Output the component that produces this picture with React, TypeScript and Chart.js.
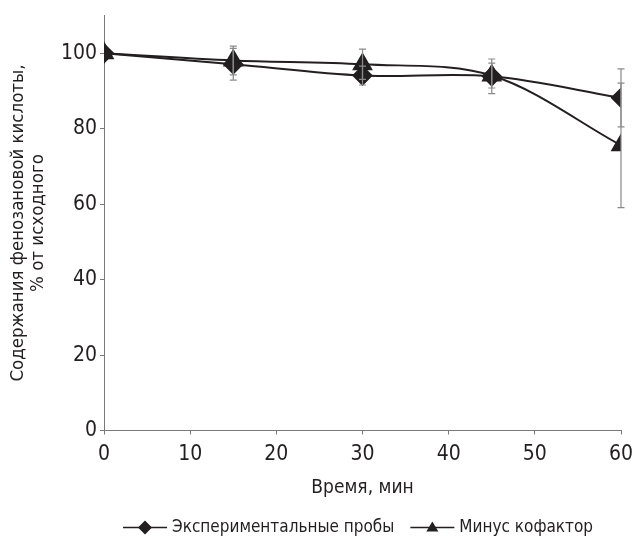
import React, { useEffect, useRef } from "react";
import { Chart, registerables } from "chart.js";
Chart.register(...registerables);

const times = [0, 15, 30, 45, 60];
const expValues = [100, 97.1, 94.1, 93.9, 88.2];
const expErrors = [0, 4.2, 2.5, 4.6, 7.7];
const cofValues = [100, 98.1, 97.1, 94.1, 75.6];
const cofErrors = [0, 3.8, 4.0, 3.3, 16.5];
const expLabel = "Экспериментальные пробы";
const cofLabel = "Минус кофактор";
const xTitle = "Время, мин";
const yTitle = ["Содержания фенозановой кислоты,", "% от исходного"];

const FONT = "'DejaVu Sans Condensed', 'DejaVu Sans', sans-serif";
const INK = "#231f20";
const AXIS = "#7a7a7a";

const errorBarPlugin = {
  id: "errorBars",
  afterDatasetsDraw(chart: any) {
    const ctx = chart.ctx;
    const xs = chart.scales.x;
    const ys = chart.scales.y;
    const sets = [
      { v: expValues, e: expErrors },
      { v: cofValues, e: cofErrors },
    ];
    ctx.save();
    ctx.strokeStyle = "#8a8a8a";
    ctx.lineWidth = 1.2;
    sets.forEach((s) => {
      times.forEach((t, i) => {
        if (!s.e[i]) return;
        const x = xs.getPixelForValue(t);
        const y1 = ys.getPixelForValue(s.v[i] + s.e[i]);
        const y2 = ys.getPixelForValue(s.v[i] - s.e[i]);
        ctx.beginPath();
        ctx.moveTo(x, y1);
        ctx.lineTo(x, y2);
        ctx.moveTo(x - 3.5, y1);
        ctx.lineTo(x + 3.5, y1);
        ctx.moveTo(x - 3.5, y2);
        ctx.lineTo(x + 3.5, y2);
        ctx.stroke();
      });
    });
    ctx.restore();
  },
};

const legendPlugin = {
  id: "bottomLegend",
  afterDraw(chart: any) {
    const ctx = chart.ctx;
    const ca = chart.chartArea;
    const y = ca.bottom + 97;
    let x = ca.left + 19;
    ctx.save();
    ctx.font = `17px ${FONT}`;
    ctx.fillStyle = INK;
    ctx.strokeStyle = INK;
    ctx.textBaseline = "middle";
    ctx.textAlign = "left";
    chart.data.datasets.forEach((ds: any) => {
      ctx.lineWidth = 1.5;
      ctx.beginPath();
      ctx.moveTo(x, y);
      ctx.lineTo(x + 44, y);
      ctx.stroke();
      const cx = x + 22;
      ctx.beginPath();
      if (ds.pointStyle === "rectRot") {
        ctx.moveTo(cx, y - 7);
        ctx.lineTo(cx + 7, y);
        ctx.lineTo(cx, y + 7);
        ctx.lineTo(cx - 7, y);
      } else {
        ctx.moveTo(cx, y - 6);
        ctx.lineTo(cx + 6, y + 4);
        ctx.lineTo(cx - 6, y + 4);
      }
      ctx.closePath();
      ctx.fill();
      ctx.fillText(ds.label, x + 49, y);
      x += 49 + ctx.measureText(ds.label).width + 16;
    });
    ctx.restore();
  },
};

export default function App() {
  const ref = useRef<HTMLCanvasElement>(null);
  useEffect(() => {
    document.documentElement.style.overflow = "hidden";
    document.body.style.margin = "0";
    const chart = new Chart(ref.current!, {
      type: "line",
      data: {
        datasets: [
          {
            label: expLabel,
            data: times.map((t, i) => ({ x: t, y: expValues[i] })),
            borderColor: INK,
            backgroundColor: INK,
            borderWidth: 2,
            pointStyle: "rectRot",
            pointRadius: 9,
            tension: 0.33,
            order: 1,
          },
          {
            label: cofLabel,
            data: times.map((t, i) => ({ x: t, y: cofValues[i] })),
            borderColor: INK,
            backgroundColor: INK,
            borderWidth: 2,
            pointStyle: "triangle",
            pointRadius: 10,
            tension: 0.33,
            order: 2,
          },
        ],
      },
      options: {
        animation: false,
        responsive: false,
        layout: { padding: { top: 0, right: 0, left: 8, bottom: 40 } },
        plugins: {
          tooltip: { enabled: false },
          legend: { display: false },
        },
        scales: {
          x: {
            type: "linear",
            min: 0,
            max: 60,
            afterFit: (scale: any) => {
              scale.paddingRight = 11;
            },
            ticks: { stepSize: 10, color: INK, font: { family: FONT, size: 21 }, padding: 7 },
            grid: { drawOnChartArea: false, drawTicks: true, tickLength: 4, color: AXIS },
            border: { display: true, color: AXIS, width: 1 },
            title: { display: true, text: xTitle, color: INK, font: { family: FONT, size: 19 }, padding: { top: 2.5, bottom: 0 } },
          },
          y: {
            min: 0,
            max: 110,
            afterBuildTicks: (axis: any) => {
              axis.ticks = axis.ticks.filter((t: any) => t.value <= 100);
            },
            ticks: { stepSize: 20, color: INK, font: { family: FONT, size: 21 }, padding: 3 },
            grid: { drawOnChartArea: false, drawTicks: true, tickLength: 4, color: AXIS },
            border: { display: true, color: AXIS, width: 1 },
            title: { display: true, text: yTitle, color: INK, font: { family: FONT, size: 18.5, lineHeight: 1.08 }, padding: { top: 0, bottom: 10 } },
          },
        },
      },
      plugins: [errorBarPlugin, legendPlugin],
    });
    return () => chart.destroy();
  }, []);
  return (
    <div style={{ width: 633, height: 538 }}>
      <canvas ref={ref} width={633} height={539} style={{ display: "block" }} />
    </div>
  );
}
